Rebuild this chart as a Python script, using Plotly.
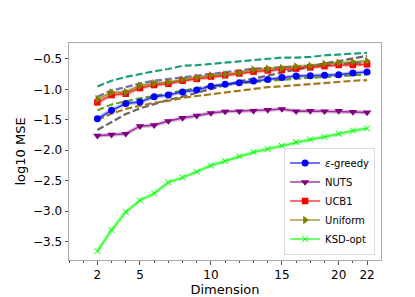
import plotly.graph_objects as go

# Dimensions (x categories) and tick labels
dims = [2, 3, 4, 5, 6, 7, 8, 9, 10, 11, 12, 13, 14, 15, 16, 17, 18, 20, 21, 22]
tick_dims = [2, 5, 10, 15, 20, 22]

# Legend series (log10 MSE)
eps_greedy = [-1.484, -1.344, -1.234, -1.208, -1.120, -1.094, -1.042, -1.010, -0.948, -0.917,
              -0.891, -0.865, -0.839, -0.808, -0.781, -0.776, -0.771, -0.760, -0.734, -0.714]
nuts = [-1.76, -1.745, -1.73, -1.605, -1.589, -1.52, -1.469, -1.432, -1.39, -1.365,
        -1.36, -1.354, -1.339, -1.323, -1.36, -1.354, -1.36, -1.354, -1.37, -1.38]
ucb1 = [-1.214, -1.094, -1.073, -0.979, -0.93, -0.91, -0.86, -0.83, -0.79, -0.77,
        -0.74, -0.71, -0.69, -0.68, -0.66, -0.64, -0.62, -0.60, -0.60, -0.59]
uniform = [-1.161, -1.052, -1.042, -0.938, -0.901, -0.885, -0.839, -0.807, -0.771, -0.755,
           -0.729, -0.677, -0.661, -0.651, -0.625, -0.614, -0.583, -0.563, -0.552, -0.536]
ksd_opt = [-3.656, -3.307, -3.011, -2.823, -2.708, -2.526, -2.448, -2.354, -2.25, -2.177,
           -2.099, -2.031, -1.979, -1.927, -1.864, -1.823, -1.781, -1.729, -1.677, -1.641]

# Unlabelled dashed series
dash_teal = [-0.953, -0.859, -0.797, -0.745, -0.703, -0.667, -0.614, -0.604, -0.583, -0.563,
             -0.547, -0.521, -0.50, -0.479, -0.479, -0.469, -0.443, -0.427, -0.417, -0.401]
dash_lav = [-1.12, -1.016, -0.964, -0.901, -0.859, -0.833, -0.807, -0.781, -0.745, -0.719,
            -0.688, -0.661, -0.651, -0.64, -0.63, -0.61, -0.60, -0.59, -0.57, -0.56]
dash_gray = [-1.667, -1.536, -1.406, -1.313, -1.24, -1.172, -1.12, -1.06, -1.0, -0.93,
             -0.87, -0.823, -0.771, -0.719, -0.677, -0.63, -0.573, -0.536, -0.495, -0.453]
dash_green = [-1.344, -1.25, -1.198, -1.146, -1.109, -1.068, -1.016, -0.979, -0.948, -0.92,
              -0.90, -0.88, -0.86, -0.84, -0.82, -0.81, -0.80, -0.79, -0.77, -0.755]
dash_brown = [-1.50, -1.40, -1.32, -1.27, -1.22, -1.19, -1.14, -1.11, -1.08, -1.06,
              -1.02, -0.99, -0.965, -0.95, -0.93, -0.91, -0.89, -0.875, -0.86, -0.85]

xpos = list(range(len(dims)))

fig = go.Figure()

dashed = [
    (dash_teal, "#1b9e77"),
    (dash_lav, "#7570b3"),
    (dash_gray, "#666666"),
    (dash_green, "#66a61e"),
    (dash_brown, "#a6761d"),
]
for ys, col in dashed:
    fig.add_trace(go.Scatter(x=xpos, y=ys, mode="lines", showlegend=False,
                             line=dict(color=col, width=2.2, dash="7px,3px"),
                             hoverinfo="skip"))

series = [
    ("<i>ε</i>-greedy", eps_greedy, "0,0,255", "circle", 7),
    ("NUTS", nuts, "128,0,128", "triangle-down", 7.5),
    ("UCB1", ucb1, "255,0,0", "square", 6.5),
    ("Uniform", uniform, "128,128,0", "triangle-right", 7.5),
    ("KSD-opt", ksd_opt, "0,255,0", "x-thin", 6),
]
for name, ys, rgb, sym, sz in series:
    fig.add_trace(go.Scatter(x=xpos, y=ys, mode="lines", showlegend=False,
                             line=dict(color=f"rgba({rgb},0.25)", width=4),
                             hoverinfo="skip"))
for name, ys, rgb, sym, sz in series:
    mk = dict(symbol=sym, size=sz, color=f"rgb({rgb})")
    if sym == "x-thin":
        mk["line"] = dict(color=f"rgb({rgb})", width=1)
    fig.add_trace(go.Scatter(x=xpos, y=ys, mode="lines+markers", name=name,
                             line=dict(color=f"rgba({rgb},0.75)", width=1.5),
                             marker=mk))

tickvals = [dims.index(d) for d in tick_dims]

fig.update_layout(
    width=415, height=297,
    margin=dict(l=52, r=42, t=35, b=34),
    paper_bgcolor="white", plot_bgcolor="white",
    font=dict(family="DejaVu Sans", size=12, color="black"),
    showlegend=True,
    legend=dict(x=0.981, xanchor="right", y=0.025, yanchor="bottom",
                bgcolor="rgba(255,255,255,0.8)", bordercolor="#dddddd", borderwidth=1,
                font=dict(size=10), itemwidth=30),
    xaxis=dict(range=[-2.0, 19.98], tickmode="array", tickvals=tickvals,
               ticktext=[str(d) for d in tick_dims],
               showgrid=False, zeroline=False, showline=True, mirror=True,
               linecolor="#aaaaaa", linewidth=1, ticks="outside", ticklen=3.5,
               tickcolor="#555555",
               minor=dict(tickmode="linear", tick0=0, dtick=1, ticks="outside",
                          ticklen=2, tickcolor="#555555"),
               title=dict(text="Dimension", font=dict(size=13), standoff=2)),
    yaxis=dict(range=[-3.8, -0.24], tickmode="array",
               tickvals=[-0.5, -1.0, -1.5, -2.0, -2.5, -3.0, -3.5],
               ticktext=["\u22120.5", "\u22121.0", "\u22121.5", "\u22122.0", "\u22122.5",
                         "\u22123.0", "\u22123.5"],
               showgrid=False, zeroline=False, showline=True, mirror=True,
               linecolor="#aaaaaa", linewidth=1, ticks="outside", ticklen=3.5,
               tickcolor="#555555",
               title=dict(text="log10 MSE", font=dict(size=13), standoff=4)),
)

fig.write_html("out.html")
